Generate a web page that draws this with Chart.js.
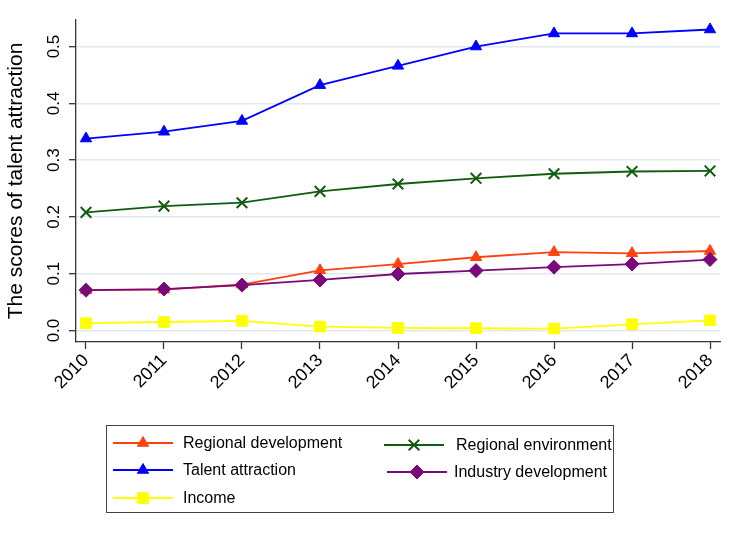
<!DOCTYPE html>
<html lang="en">
<head>
  <meta charset="UTF-8">
  <title>The scores of talent attraction</title>
  <script src="https://cdn.jsdelivr.net/npm/chart.js@4.4.4/dist/chart.umd.min.js"></script>
  <style>
    body { margin: 0; background: #fff; }
    #wrap { width: 740px; height: 538px; }
  </style>
</head>
<body>
  <div id="wrap"><canvas id="scoreChart" width="740" height="538"></canvas></div>

  <script>
    // values
    const years = [2010, 2011, 2012, 2013, 2014, 2015, 2016, 2017, 2018];
    const regionalDevelopment = [0.071, 0.072, 0.081, 0.106, 0.117, 0.129, 0.138, 0.136, 0.140];
    const talentAttraction = [0.338, 0.350, 0.369, 0.432, 0.466, 0.500, 0.523, 0.523, 0.530];
    const income = [0.013, 0.015, 0.017, 0.007, 0.0045, 0.004, 0.0035, 0.011, 0.018];
    const regionalEnvironment = [0.208, 0.219, 0.225, 0.245, 0.258, 0.268, 0.276, 0.280, 0.281];
    const industryDevelopment = [0.071, 0.073, 0.080, 0.089, 0.0995, 0.1055, 0.1115, 0.117, 0.125];
    const yTicks = [0.0, 0.1, 0.2, 0.3, 0.4, 0.5];

    const FONT = "'Liberation Sans', Arial, sans-serif";
    Chart.defaults.font.family = FONT;
    Chart.defaults.color = '#000';

    const toPoints = (arr) => years.map((yr, i) => ({ x: yr, y: arr[i] }));

    const series = [
      { label: 'Regional development', data: regionalDevelopment, color: '#ff4010', style: 'triangle', radius: 6.5, order: 4 },
      { label: 'Talent attraction', data: talentAttraction, color: '#0000ff', style: 'triangle', radius: 6.5, order: 3 },
      { label: 'Income', data: income, color: '#ffff00', style: 'rect', radius: 7.5, order: 2 },
      { label: 'Regional environment', data: regionalEnvironment, color: '#115c11', style: 'crossRot', radius: 7.5, order: 1 },
      { label: 'Industry development', data: industryDevelopment, color: '#7a0a7a', style: 'rectRot', radius: 7, order: 0 }
    ];

    // legend slots: [series index, line start x, row y, text x]
    const legendSlots = [
      [0, 113, 443, 183],
      [1, 113, 470, 183],
      [2, 113, 498, 183],
      [3, 384, 445, 456],
      [4, 387, 472, 454]
    ];

    const drawMarker = (ctx, s, x, y) => {
      ctx.fillStyle = s.color;
      ctx.strokeStyle = s.color;
      ctx.lineWidth = s.style === 'crossRot' ? 2 : 1;
      Chart.helpers.drawPoint(ctx, { pointStyle: s.style, radius: s.radius, borderWidth: ctx.lineWidth, rotation: 0 }, x, y);
    };

    const extrasPlugin = {
      id: 'extras',
      afterDraw(chart) {
        const ctx = chart.ctx;
        const yScale = chart.scales.y;

        // rotated y tick labels
        ctx.save();
        ctx.fillStyle = '#000';
        ctx.font = '17px ' + FONT;
        ctx.textAlign = 'center';
        ctx.textBaseline = 'middle';
        yTicks.forEach(v => {
          const py = yScale.getPixelForValue(v);
          ctx.save();
          ctx.translate(54, py);
          ctx.rotate(-Math.PI / 2);
          ctx.fillText(v.toFixed(1), 0, 0);
          ctx.restore();
        });
        ctx.restore();

        // legend box
        ctx.save();
        ctx.strokeStyle = '#444';
        ctx.lineWidth = 1;
        ctx.strokeRect(106.5, 425.5, 507, 87);
        ctx.font = '16px ' + FONT;
        ctx.textBaseline = 'middle';
        legendSlots.forEach(([idx, lx, ly, tx]) => {
          const s = series[idx];
          ctx.strokeStyle = s.color;
          ctx.lineWidth = 1.8;
          ctx.beginPath();
          ctx.moveTo(lx, ly);
          ctx.lineTo(lx + 60, ly);
          ctx.stroke();
          drawMarker(ctx, s, lx + 30, ly);
          ctx.fillStyle = '#000';
          ctx.fillText(s.label, tx, ly + 1);
        });
        ctx.restore();
      }
    };

    const ctx = document.getElementById('scoreChart').getContext('2d');
    new Chart(ctx, {
      type: 'line',
      data: {
        datasets: series.map(s => ({
          label: s.label,
          data: toPoints(s.data),
          borderColor: s.color,
          backgroundColor: s.color,
          borderWidth: 1.8,
          pointStyle: s.style,
          pointRadius: s.radius,
          pointBorderWidth: s.style === 'crossRot' ? 2 : 1,
          pointBorderColor: s.color,
          pointBackgroundColor: s.color,
          tension: 0,
          order: s.order
        }))
      },
      options: {
        responsive: false,
        animation: false,
        layout: { padding: { top: 20, right: 20, left: 0, bottom: 0 } },
        plugins: {
          legend: { display: false },
          tooltip: { enabled: false }
        },
        scales: {
          x: {
            type: 'linear',
            min: 2009.872,
            max: 2018.128,
            afterBuildTicks: (scale) => { scale.ticks = years.map(v => ({ value: v })); },
            afterFit: (scale) => { scale.height = 196; },
            border: { display: true, color: '#333', width: 1.3 },
            grid: { drawOnChartArea: false, drawTicks: true, tickLength: 7, tickColor: '#333', tickWidth: 1.3 },
            ticks: {
              font: { size: 18 },
              color: '#000',
              minRotation: 45,
              maxRotation: 45,
              padding: 1,
              callback: (v) => String(v)
            }
          },
          y: {
            type: 'linear',
            min: -0.0202,
            max: 0.5467,
            afterBuildTicks: (scale) => { scale.ticks = yTicks.map(v => ({ value: v })); },
            afterFit: (scale) => { scale.width = 76; },
            border: { display: true, color: '#333', width: 1.3 },
            grid: { color: '#e0eaef', lineWidth: 1.4, drawTicks: true, tickLength: 7, tickColor: '#333', tickWidth: 1.3 },
            ticks: { display: false },
            title: {
              display: true,
              text: 'The scores of talent attraction',
              font: { size: 21 },
              color: '#000',
              padding: { top: 4, bottom: 0 }
            }
          }
        }
      },
      plugins: [extrasPlugin]
    });
  </script>
</body>
</html>
